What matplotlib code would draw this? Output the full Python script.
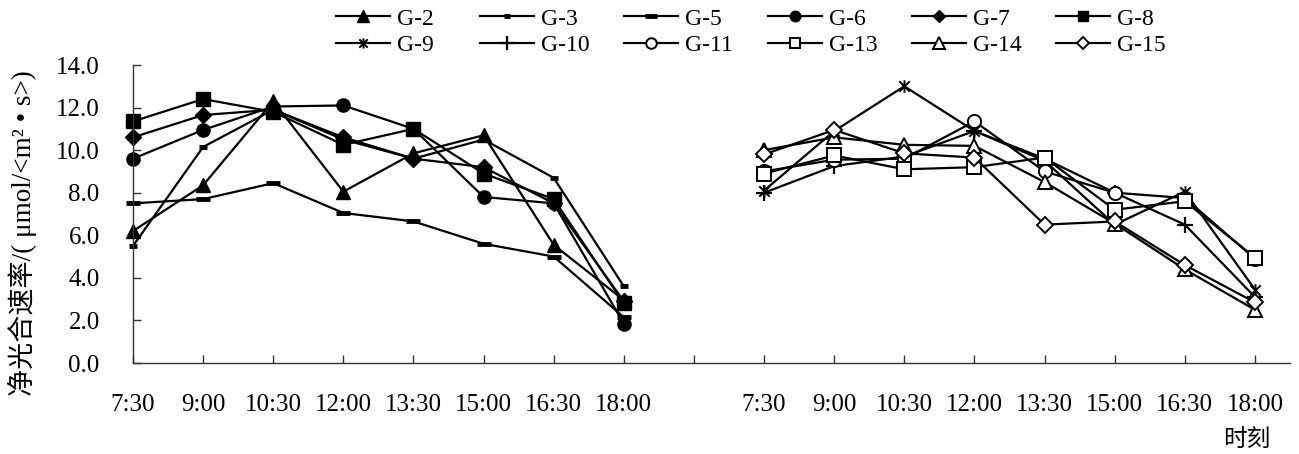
import numpy as np
import matplotlib
matplotlib.use("Agg")
import matplotlib.pyplot as plt
from matplotlib.path import Path

plt.rcParams['font.family'] = ['Liberation Serif', 'Noto Sans CJK SC']

times = ["7:30", "9:00", "10:30", "12:00", "13:30", "15:00", "16:30", "18:00"]

# left group
g2 = [6.2, 8.35, 12.3, 8.05, 9.85, 10.7, 5.55, 2.95]
g3 = [5.5, 10.15, 11.9, 10.5, 9.6, 10.5, 8.7, 3.6]
g5 = [7.5, 7.7, 8.45, 7.05, 6.65, 5.6, 5.0, 2.15]
g6 = [9.6, 10.95, 12.05, 12.1, 11.0, 7.8, 7.5, 1.85]
g7 = [10.6, 11.65, 11.9, 10.6, 9.6, 9.2, 7.5, 2.9]
g8 = [11.35, 12.4, 11.8, 10.25, 11.0, 8.9, 7.7, 2.8]

# right group
g9 = [8.1, 10.9, 13.0, 10.9, 9.5, 6.5, 8.05, 3.45]
g10 = [8.0, 9.25, 9.7, 10.9, 9.6, 8.0, 6.5, 3.1]
g11 = [9.0, 9.55, 9.6, 11.35, 9.0, 8.0, 7.75, 4.9]
g13 = [8.9, 9.75, 9.1, 9.2, 9.65, 7.2, 7.6, 4.95]
g14 = [10.0, 10.6, 10.25, 10.2, 8.5, 6.55, 4.4, 2.5]
g15 = [9.8, 10.95, 9.85, 9.65, 6.5, 6.65, 4.6, 2.85]

left_names = ["G-2", "G-3", "G-5", "G-6", "G-7", "G-8"]
left_data = [g2, g3, g5, g6, g7, g8]
right_names = ["G-9", "G-10", "G-11", "G-13", "G-14", "G-15"]
right_data = [g9, g10, g11, g13, g14, g15]

star = Path([(-1, -1), (1, 1), (-1, 1), (1, -1), (0, -1.2), (0, 1.2)],
            [Path.MOVETO, Path.LINETO] * 3)

styles = {
    "G-2": dict(marker="^", ms=10.5, mfc="black"),
    "G-3": dict(marker="_", ms=6, mew=3.5),
    "G-5": dict(marker="_", ms=10, mew=3.5),
    "G-6": dict(marker="o", ms=9.5, mfc="black"),
    "G-7": dict(marker="D", ms=8, mfc="black"),
    "G-8": dict(marker="s", ms=9.5, mfc="black"),
    "G-9": dict(marker=star, ms=9, mfc="none", mew=1.4),
    "G-10": dict(marker="+", ms=12, mew=1.6),
    "G-11": dict(marker="o", ms=9.5, mfc="white", mew=1.4),
    "G-13": dict(marker="s", ms=9.5, mfc="white", mew=1.4),
    "G-14": dict(marker="^", ms=10.5, mfc="white", mew=1.4),
    "G-15": dict(marker="D", ms=8, mfc="white", mew=1.4),
}

W, H = 1299, 454
fig = plt.figure(figsize=(W / 100, H / 100), dpi=100)
ax = fig.add_axes([133 / W, 1 - 363 / H, 1157 / W, 298 / H])

x_left = np.arange(8)
x_right = np.arange(9, 17)

handles = {}
for name, vals in zip(left_names, left_data):
    ln, = ax.plot(x_left, vals, color="black", lw=1.6, mec="black",
                  clip_on=False, label=name, **styles[name])
    handles[name] = ln
for name, vals in zip(right_names, right_data):
    ln, = ax.plot(x_right, vals, color="black", lw=1.6, mec="black",
                  clip_on=False, label=name, **styles[name])
    handles[name] = ln

ax.set_xlim(0, 16.5)
ax.set_ylim(0, 14)
ax.set_yticks(np.arange(0, 15, 2))
ax.set_yticklabels([f"{v:.1f}" for v in np.arange(0, 15, 2)])
ax.set_xticks(np.arange(17))
ax.set_xticklabels(times + [""] + times)

for s in ["top", "right"]:
    ax.spines[s].set_visible(False)
for s in ["left", "bottom"]:
    ax.spines[s].set_linewidth(1.0)
    ax.spines[s].set_color("#333333")

ax.tick_params(axis="both", direction="in", length=6, width=1, colors="#333333",
               labelcolor="black", labelsize=18)
ax.tick_params(axis="x", pad=22)
ax.tick_params(axis="y", pad=24)

ax.set_ylabel("净光合速率/( μmol/<m² • s>)", fontsize=19.5)
ax.yaxis.set_label_coords(-0.083, 0.436)

fig.text(1247 / W, 1 - 441 / H, "时刻", fontsize=17, ha="center", va="center")

# one legend per column so the columns sit at an even pitch
for i, (a, b) in enumerate(zip(left_names, right_names)):
    fig.legend([handles[a], handles[b]], [a, b], ncol=1, loc="upper left",
               bbox_to_anchor=((336 + 144 * i) / W, 1 - 8 / H), frameon=False,
               fontsize=17, handlelength=2.3, handletextpad=0.3,
               labelspacing=0.2, borderpad=0, borderaxespad=0, markerscale=0.8)

fig.savefig("out.png", dpi=100)
